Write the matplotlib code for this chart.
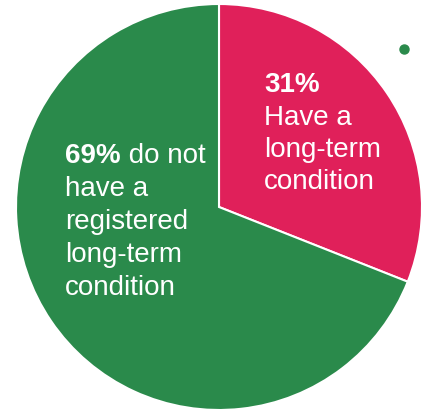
import matplotlib
matplotlib.use("Agg")
import matplotlib.pyplot as plt

plt.rcParams['font.family'] = ['Liberation Sans', 'DejaVu Sans']

labels = ["Have a long-term condition", "Do not have a registered long-term condition"]
shares = [31, 69]
colors = ["#E0205A", "#2A8A4B"]

pink_lines = ["Have a", "long-term", "condition"]
green_lines = ["have a", "registered", "long-term", "condition"]

fig = plt.figure(figsize=(4.28, 4.11), dpi=100)
ax = fig.add_axes([16/428, 1/411, 406/428, 406/411])
ax.pie(shares, colors=colors, startangle=90, counterclock=False, radius=1,
       wedgeprops=dict(edgecolor="white", linewidth=1.5))
ax.set_xlim(-1, 1)
ax.set_ylim(-1, 1)
ax.set_aspect("equal")
ax.axis("off")

def px(x, y):
    # pixel position in picture -> data coords
    return (x - 219) / 203, (207 - y) / 203

fs = 20

# pink slice label
x0, y0 = px(264, 92)
ax.text(x0, y0, f"{shares[0]}%", color="white", fontsize=fs, fontweight="bold", va="baseline")
for i, t in enumerate(pink_lines):
    xx, yy = px(264, 125 + i * 32)
    ax.text(xx, yy, t, color="white", fontsize=fs, va="baseline")

# green slice label
x0, y0 = px(65, 163)
b = ax.text(x0, y0, f"{shares[1]}%", color="white", fontsize=fs, fontweight="bold", va="baseline")
ax.annotate(" do not", xy=(1, 0), xycoords=b, color="white", fontsize=fs, va="bottom")
for i, t in enumerate(green_lines):
    xx, yy = px(65, 196 + i * 33)
    ax.text(xx, yy, t, color="white", fontsize=fs, va="baseline")

# legend marker remnant
mx, my = px(404, 49)
ax.plot([mx], [my], marker="o", markersize=6.5, color=colors[1], clip_on=False)

fig.savefig("out.png", dpi=100, facecolor="white")
